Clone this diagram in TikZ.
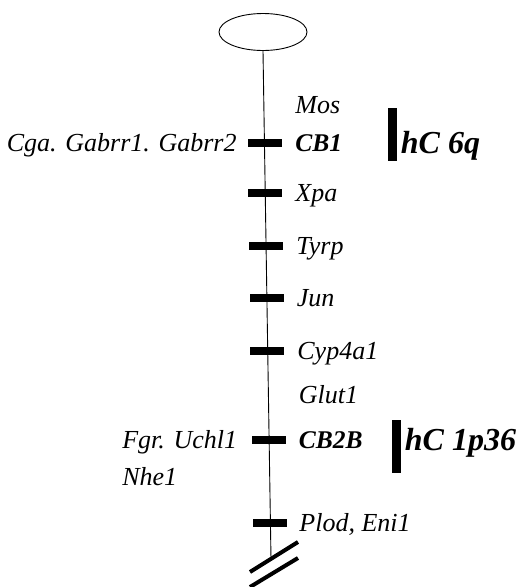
\documentclass[tikz,border=0pt]{standalone}
\usepackage{fontspec}
\setmainfont{Liberation Serif}
\usetikzlibrary{positioning, shapes.geometric}

\begin{document}
\begin{tikzpicture}[x=1pt,y=-1pt,
  gene/.style={font=\itshape\fontsize{26}{30}\selectfont, inner sep=0pt, text height=17.2pt, text depth=0pt},
  locus/.style={gene, font=\bfseries\itshape\fontsize{25.5}{30}\selectfont},
  human/.style={gene, font=\bfseries\itshape\fontsize{32}{36}\selectfont, text height=21.2pt},
  tick/.style={fill=black, inner sep=0pt, minimum width=34, minimum height=7.5},
  band/.style={fill=black, inner sep=0pt, minimum width=9, minimum height=53}]
\useasboundingbox (0,0) rectangle (521,587);

% define the centromere and the chromosome
  \node[ellipse, draw, line width=0.9pt, minimum width=88, minimum height=37] (cen) at (263,32) {};
  \coordinate (end) at (271,559);
  \draw[line width=0.9pt] (cen.south) -- (end);

% define the markers
  \foreach \x/\y/\n in {265/143/cb1, 265/193/xpa, 266/246/tyrp, 266.5/298/jun,
                        267/351/cyp, 268.5/440/cb2b, 270/523/plod}
    \node[tick] (\n) at (\x,\y) {};

% define the labels
  \node[gene, right=13pt of cb1, yshift=38] (mos) {Mos};
  \node[locus, right=13pt of cb1]  (cb1l)  {CB1};
  \node[gene, left=11pt of cb1]    (cga)   {Cga. Gabrr1. Gabrr2};
  \node[gene, right=13pt of xpa]   (xpal)  {Xpa};
  \node[gene, right=13pt of tyrp]  (tyrpl) {Tyrp};
  \node[gene, right=13pt of jun]   (junl)  {Jun};
  \node[gene, right=13pt of cyp]   (cypl)  {Cyp4a1};
  \node[gene, right=13pt of cb2b, yshift=45] (glut) {Glut1};
  \node[locus, right=13pt of cb2b] (cb2bl) {CB2B};
  \node[gene, left=14pt of cb2b]   (fgr)   {Fgr. Uchl1};
  \node[gene, anchor=west] (nhe) at (fgr.west |- 0,477) {Nhe1};
  \node[gene, right=12pt of plod]  (plodl) {Plod, Eni1};

% define the human homologies
  \node[band] (b6)  at (392,134) {};
  \node[human, right=4pt of b6.east, anchor=west, yshift=-9] (h6) {hC 6q};
  \node[band] (b1)  at (396,446) {};
  \node[human, right=4pt of b1.east, anchor=west, yshift=6] (h1) {hC 1p36};

% define the break
  \draw[line width=4pt] (250,572) -- (298,542);
  \draw[line width=4pt] (250,587) -- (298,558);

\end{tikzpicture}
\end{document}
